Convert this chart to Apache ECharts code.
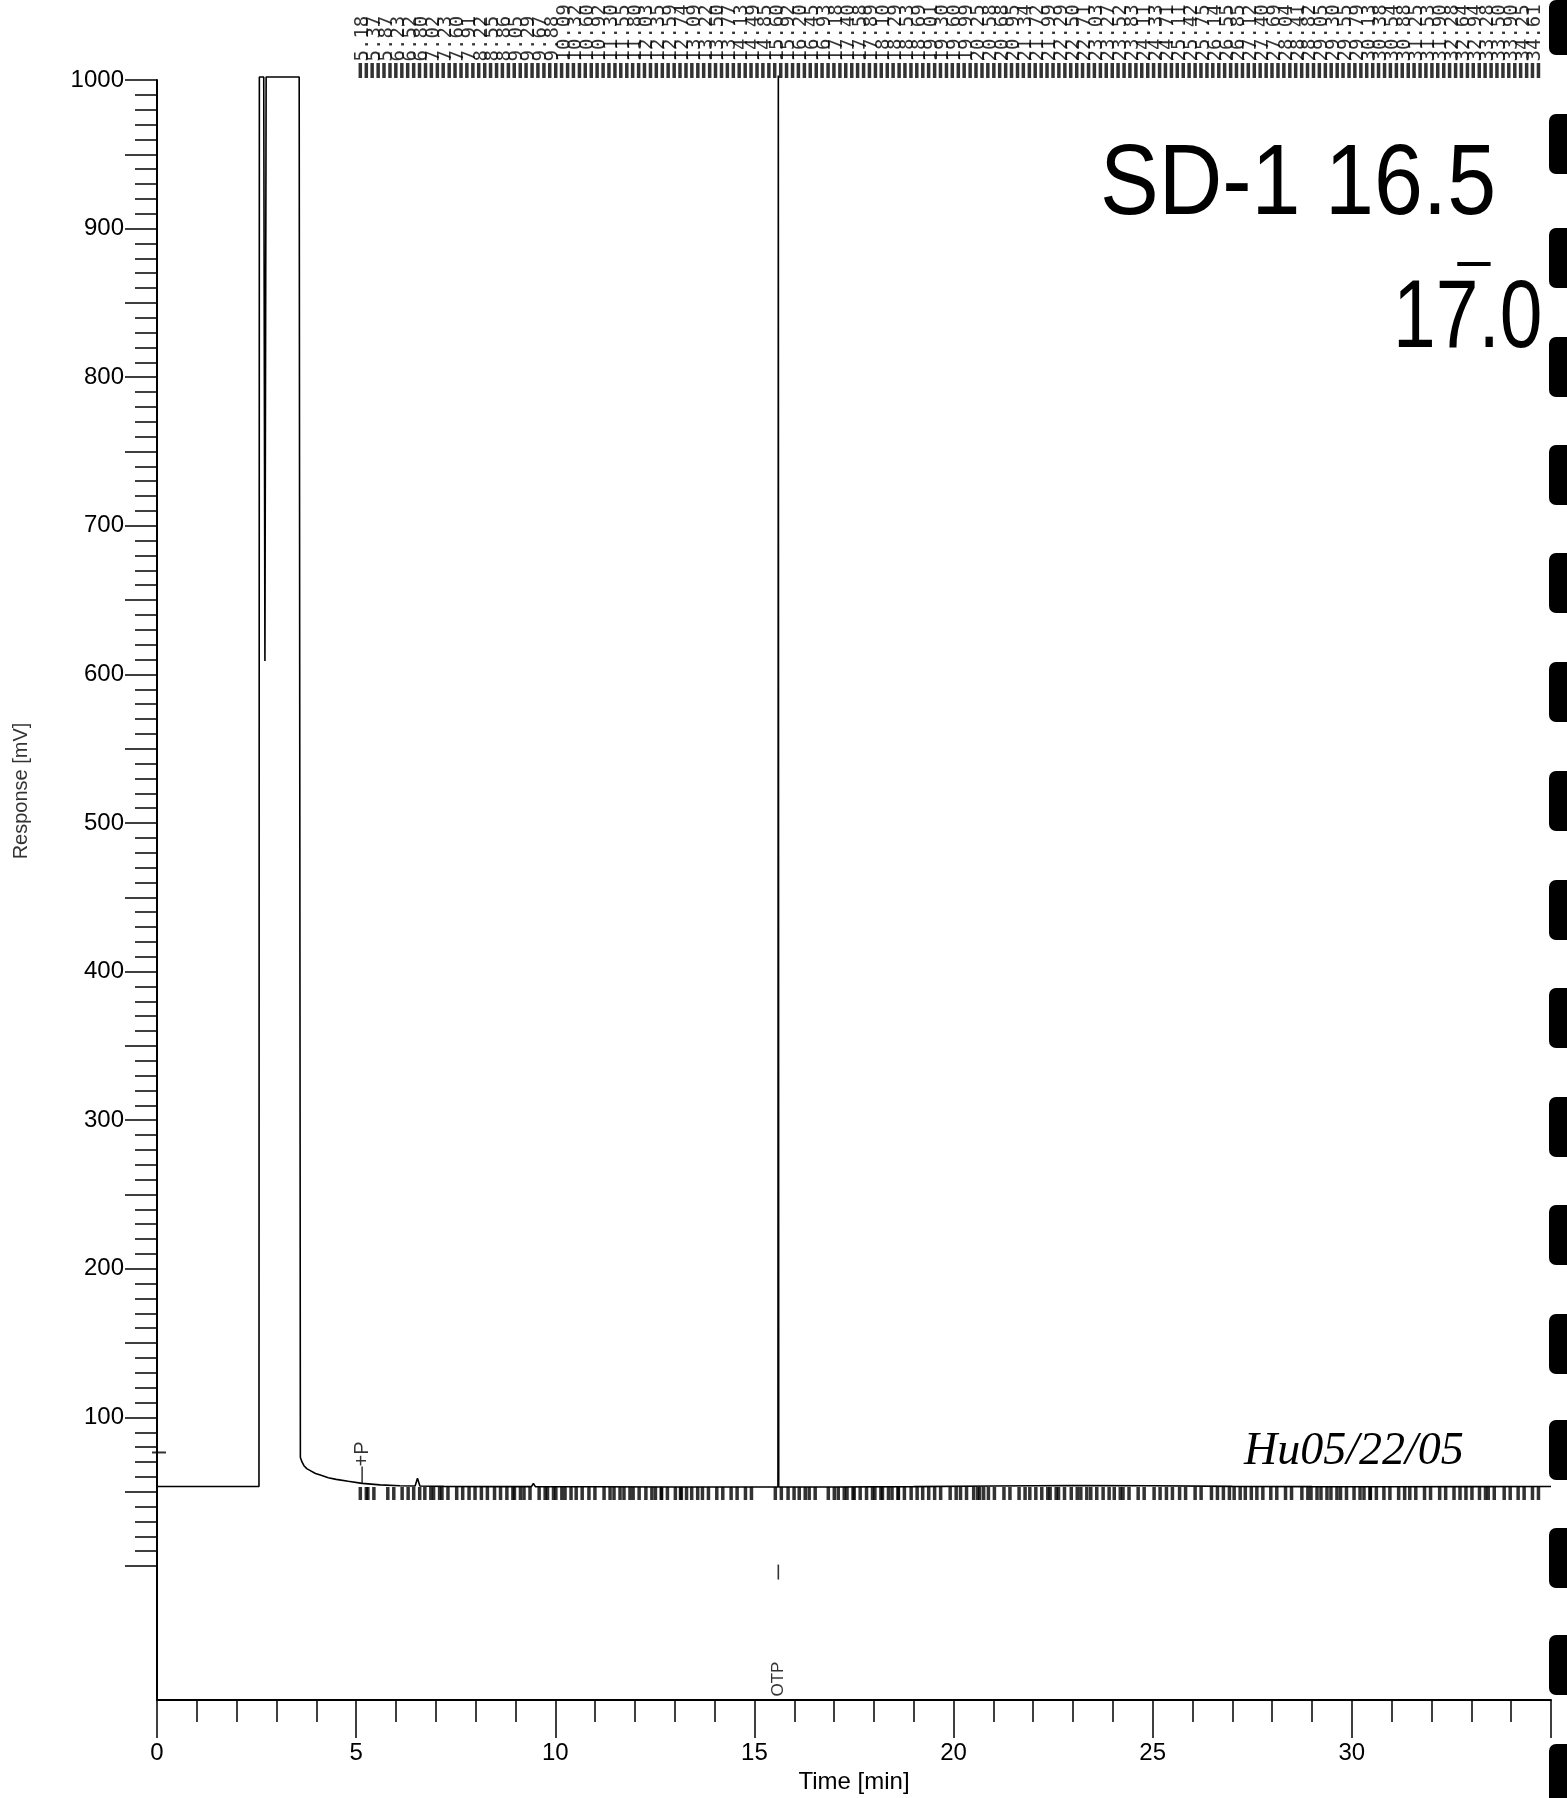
<!DOCTYPE html>
<html>
<head>
<meta charset="utf-8">
<script src="https://cdn.jsdelivr.net/npm/echarts/dist/echarts.min.js"></script>
<style>
  html, body { margin: 0; padding: 0; background: #fff; }
  #chart { width: 1567px; height: 1798px; }
</style>
</head>
<body>
<div id="chart"></div>
<script>
// Integrated peak retention times printed along the top (min)
const peakTimes = [
  5.18, 5.37, 5.87, 6.23, 6.52, 6.80, 7.02, 7.23, 7.60, 7.91,
  8.22, 8.55, 8.86, 9.05, 9.29, 9.67, 9.88, 10.09, 10.32, 10.60,
  10.92, 11.30, 11.55, 11.80, 12.03, 12.35, 12.59, 12.74, 13.09, 13.22,
  13.50, 13.77, 14.13, 14.49, 14.85,
  15.60, 15.92, 16.20, 16.45, 16.93, 17.18, 17.40, 17.58, 17.89, 18.10,
  18.29, 18.53, 18.69, 19.01, 19.30, 19.60, 19.99, 20.25, 20.58, 20.68,
  20.95, 21.34, 21.72, 21.99, 22.29, 22.50, 22.71, 23.03, 23.27, 23.52,
  23.83, 24.11, 24.33, 24.71, 25.11, 25.42, 25.75, 26.14, 26.55, 26.85,
  27.12, 27.40, 27.69, 28.04, 28.41, 28.82, 29.05, 29.30, 29.55, 29.79,
  30.13, 30.38, 30.54, 30.88, 31.25, 31.53, 31.90, 32.28, 32.64, 32.94,
  33.28, 33.50, 33.90, 34.25, 34.61
];

// Detector trace: time (min) and response (mV); the solvent and OTP peaks run off scale
const traceTime = [
  0, 2.56, 2.57, 2.68, 2.71, 2.74, 3.57, 3.60, 3.64, 3.69,
  3.76, 3.86, 3.98, 4.12, 4.30, 4.50, 4.80, 5.15, 5.60, 6.10,
  6.48, 6.54, 6.60, 7.20, 8.50, 9.40, 9.45, 9.50, 11.0, 13.0,
  15.0, 15.59, 15.60, 15.61, 17.0, 19.0, 21.0, 23.0, 25.0, 27.0,
  29.0, 31.0, 33.0, 35.0
];
const traceResp = [
  53.5, 53.5, 1002, 1002, 609, 1002, 1002, 73, 70, 67.5,
  65.5, 64, 62.2, 61, 59.4, 58.3, 57, 55.6, 54.6, 54.0,
  53.8, 59, 53.8, 53.6, 53.4, 53.4, 55.5, 53.4, 53.3, 53.2,
  53.2, 53.2, 1003, 53.2, 53.2, 53.4, 53.8, 54.2, 54.0, 53.6,
  53.4, 53.3, 53.4, 53.5
];

// Axis ranges and tick steps
const timeRange = [0, 35];
const timeStep = 5;
const respRange = [0, 1000];
const respStep = 50;
const respLabelStep = 100;

// Baseline level where the integration marks sit (mV)
const baselineMarkLevel = 53.5;

// Event marks
const otpTime = 15.60;
const pEventTime = 5.15;
const pEventLevel = 55.6;
const startEventLevel = 76.4;

// Retention labels are printed side by side in equal slots from the first to the last peak
const n = peakTimes.length;
const slot = (peakTimes[n - 1] - peakTimes[0]) / (n - 1);
const labelSlots = peakTimes.map((t, i) => peakTimes[0] + i * slot);

const LEFT = 157, WIDTH = 1394;
const FONT = 'Liberation Sans';

const chart = echarts.init(document.getElementById('chart'), null, { renderer: 'canvas' });

const hiddenX = (gi) => ({
  gridIndex: gi, type: 'value', min: timeRange[0], max: timeRange[1], show: false
});

// Black registration bars along the right margin of the sheet
const barTops = [0, 114, 228, 337, 445, 553, 662, 771, 880, 988, 1097, 1205, 1314, 1420, 1528, 1635, 1744];
const marginBars = barTops.map((y, i) => ({
  type: 'rect',
  shape: { x: 1549, y: y, width: 24, height: i === 0 ? 55 : 60, r: 7 },
  style: { fill: '#000' },
  silent: true,
  z: 100
}));

// paired marks drawn either side of a position
const markPair = (data, xi, yi, size, dy, gap) => [-gap, gap].map((dx) => ({
  type: 'scatter', xAxisIndex: xi, yAxisIndex: yi, silent: true, clip: false,
  data: data,
  symbol: 'rect', symbolSize: size, symbolOffset: [dx, dy],
  itemStyle: { color: '#000' }
}));

const option = {
  animation: false,
  backgroundColor: '#fff',
  grid: [
    { left: LEFT, top: 80, width: WIDTH, height: 1486, outerBoundsMode: 'none', containLabel: false },
    { left: LEFT, top: 1566, width: WIDTH, height: 134, outerBoundsMode: 'none', containLabel: false },
    { left: LEFT, top: 0, width: WIDTH, height: 62, outerBoundsMode: 'none', containLabel: false }
  ],
  xAxis: [
    hiddenX(0),
    {
      gridIndex: 1, type: 'value', min: timeRange[0], max: timeRange[1], interval: timeStep,
      position: 'bottom',
      axisLine: { show: true, onZero: false, lineStyle: { color: '#000', width: 2 } },
      axisTick: { show: true, inside: false, length: 38, lineStyle: { color: '#000', width: 1.5 } },
      minorTick: { show: true, splitNumber: 5, length: 22, lineStyle: { color: '#000', width: 1.5 } },
      splitLine: { show: false },
      minorSplitLine: { show: false },
      axisLabel: {
        show: true, margin: 41, fontSize: 24, fontFamily: FONT, color: '#000',
        formatter: (v) => (v < timeRange[1] ? String(v) : '')
      },
      name: 'Time [min]',
      nameLocation: 'middle',
      nameGap: 70,
      nameTextStyle: { fontSize: 24, fontFamily: FONT, color: '#000' }
    },
    hiddenX(2)
  ],
  yAxis: [
    {
      gridIndex: 0, type: 'value', min: respRange[0], max: respRange[1], interval: respStep,
      position: 'left',
      axisLine: { show: true, onZero: false, lineStyle: { color: '#000', width: 2 } },
      axisTick: { show: true, inside: false, length: 32, lineStyle: { color: '#000', width: 1.5 } },
      minorTick: { show: true, splitNumber: 5, length: 22, lineStyle: { color: '#000', width: 1.5 } },
      splitLine: { show: false },
      minorSplitLine: { show: false },
      axisLabel: {
        show: true, margin: 33, fontSize: 24, fontFamily: FONT, color: '#000',
        formatter: (v) => (v > 0 && v % respLabelStep === 0) ? String(v) : ''
      },
      name: 'Response [mV]',
      nameLocation: 'middle',
      nameGap: 126,
      nameTextStyle: { fontSize: 20, fontFamily: FONT, color: '#333', padding: [0, 0, 0, 64] }
    },
    {
      gridIndex: 1, type: 'value', min: 0, max: 1,
      axisLine: { show: true, onZero: false, lineStyle: { color: '#000', width: 2 } },
      axisTick: { show: false }, axisLabel: { show: false }, splitLine: { show: false }
    },
    { gridIndex: 2, type: 'value', min: 0, max: 1, show: false }
  ],
  series: [
    {
      name: 'Response',
      type: 'line',
      xAxisIndex: 0, yAxisIndex: 0,
      data: traceTime.map((t, i) => [t, traceResp[i]]),
      symbol: 'none',
      showSymbol: false,
      clip: false,
      lineStyle: { color: '#000', width: 1.6 },
      z: 5
    },
    // integration marks along the baseline
    ...markPair(peakTimes.map((t) => [t, baselineMarkLevel]), 0, 0, [3.5, 13], 7, 3),
    // retention time labels
    {
      type: 'scatter', xAxisIndex: 2, yAxisIndex: 2, silent: true, clip: false,
      data: labelSlots.map((x) => [x, 0]),
      symbolSize: 1,
      itemStyle: { color: 'rgba(0,0,0,0)' },
      label: {
        show: true, position: 'top', distance: 0, rotate: 90,
        align: 'left', verticalAlign: 'middle',
        fontFamily: 'DejaVu Sans Mono', fontSize: 19, color: '#000',
        formatter: (p) => peakTimes[p.dataIndex].toFixed(2)
      }
    },
    // label leader marks
    ...markPair(labelSlots.map((x) => [x, 0]), 2, 2, [3.5, 15], 8.5, 3),
    // OTP event mark and name
    {
      type: 'scatter', xAxisIndex: 1, yAxisIndex: 1, silent: true, clip: false,
      data: [[otpTime, 0]],
      symbolSize: 1, itemStyle: { color: 'rgba(0,0,0,0)' },
      label: {
        show: true, position: 'top', distance: 3, rotate: 90,
        align: 'left', verticalAlign: 'middle',
        fontFamily: FONT, fontSize: 17, color: '#000',
        formatter: 'OTP'
      }
    },
    {
      type: 'scatter', xAxisIndex: 1, yAxisIndex: 1, silent: true, clip: false,
      data: [[otpTime, 0.955]],
      symbol: 'rect', symbolSize: [1.6, 15],
      itemStyle: { color: '#000' }
    },
    // +P event
    {
      type: 'scatter', xAxisIndex: 0, yAxisIndex: 0, silent: true, clip: false,
      data: [[pEventTime, pEventLevel]],
      symbol: 'rect', symbolSize: [1.5, 17], symbolOffset: [0, -8.5],
      itemStyle: { color: '#000' },
      label: {
        show: true, position: 'top', distance: 0, rotate: 90,
        align: 'left', verticalAlign: 'middle',
        fontFamily: FONT, fontSize: 20, color: '#000',
        formatter: '+P'
      }
    },
    // start event on the response axis
    {
      type: 'scatter', xAxisIndex: 0, yAxisIndex: 0, silent: true, clip: false,
      data: [[0, startEventLevel]],
      symbol: 'rect', symbolSize: [14, 2], symbolOffset: [2, 0],
      itemStyle: { color: '#000' }
    }
  ],
  graphic: [
    {
      type: 'text', x: 1100, y: 186, scaleX: 0.88, silent: true,
      style: {
        text: 'SD-1 16.5', font: '100px "Liberation Sans"', fill: '#000',
        textAlign: 'left', textVerticalAlign: 'middle', align: 'left', verticalAlign: 'middle'
      }
    },
    {
      type: 'text', x: 1474, y: 262, silent: true,
      style: {
        text: '\u2013', font: '60px "Liberation Sans"', fill: '#000',
        textAlign: 'center', textVerticalAlign: 'middle', align: 'center', verticalAlign: 'middle'
      }
    },
    {
      type: 'text', x: 1393, y: 321, scaleX: 0.8, silent: true,
      style: {
        text: '17.0', font: '96px "Liberation Sans"', fill: '#000',
        textAlign: 'left', textVerticalAlign: 'middle', align: 'left', verticalAlign: 'middle'
      }
    },
    {
      type: 'text', x: 1244, y: 1452, silent: true,
      style: {
        text: 'Hu05/22/05', font: 'italic 46px "Liberation Serif"', fill: '#000',
        textAlign: 'left', textVerticalAlign: 'middle', align: 'left', verticalAlign: 'middle'
      }
    }
  ].concat(marginBars)
};

chart.setOption(option);
</script>
</body>
</html>
